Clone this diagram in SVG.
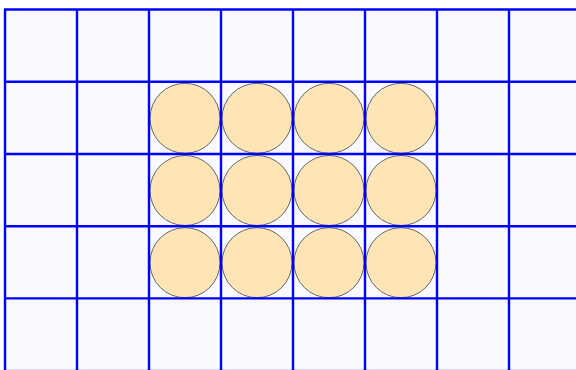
<svg xmlns="http://www.w3.org/2000/svg" width="576" height="370" viewBox="0 0 576 370">
<style>
.grid line{stroke:#0000ff;stroke-width:2.4}
.c{fill:#ffe4b5;stroke:#666;stroke-width:1}
</style>
<rect x="0" y="0" width="576" height="370" fill="#ffffff"/>
<rect x="5" y="9.5" width="576" height="370" fill="#f9f9fe"/>
<g id="circles">
<g id="r1">
<circle class="c" cx="185" cy="118.3" r="35"/>
<circle class="c" cx="257" cy="118.3" r="35"/>
<circle class="c" cx="329" cy="118.3" r="35"/>
<circle class="c" cx="401" cy="118.3" r="35"/>
</g>
<g id="r2">
<circle class="c" cx="185" cy="190.5" r="35"/>
<circle class="c" cx="257" cy="190.5" r="35"/>
<circle class="c" cx="329" cy="190.5" r="35"/>
<circle class="c" cx="401" cy="190.5" r="35"/>
</g>
<g id="r3">
<circle class="c" cx="185" cy="262.7" r="35"/>
<circle class="c" cx="257" cy="262.7" r="35"/>
<circle class="c" cx="329" cy="262.7" r="35"/>
<circle class="c" cx="401" cy="262.7" r="35"/>
</g>
</g>
<g class="grid" id="grid">
<line x1="5" y1="9.5" x2="5" y2="370"/>
<line x1="77" y1="9.5" x2="77" y2="370"/>
<line x1="149" y1="9.5" x2="149" y2="370"/>
<line x1="221" y1="9.5" x2="221" y2="370"/>
<line x1="293" y1="9.5" x2="293" y2="370"/>
<line x1="365" y1="9.5" x2="365" y2="370"/>
<line x1="437" y1="9.5" x2="437" y2="370"/>
<line x1="509" y1="9.5" x2="509" y2="370"/>
<line x1="4" y1="9.5" x2="576" y2="9.5"/>
<line x1="4" y1="81.7" x2="576" y2="81.7"/>
<line x1="4" y1="154" x2="576" y2="154"/>
<line x1="4" y1="226.2" x2="576" y2="226.2"/>
<line x1="4" y1="298.4" x2="576" y2="298.4"/>
<line x1="4" y1="370.6" x2="576" y2="370.6" stroke-opacity="0.3"/>
</g>
</svg>
